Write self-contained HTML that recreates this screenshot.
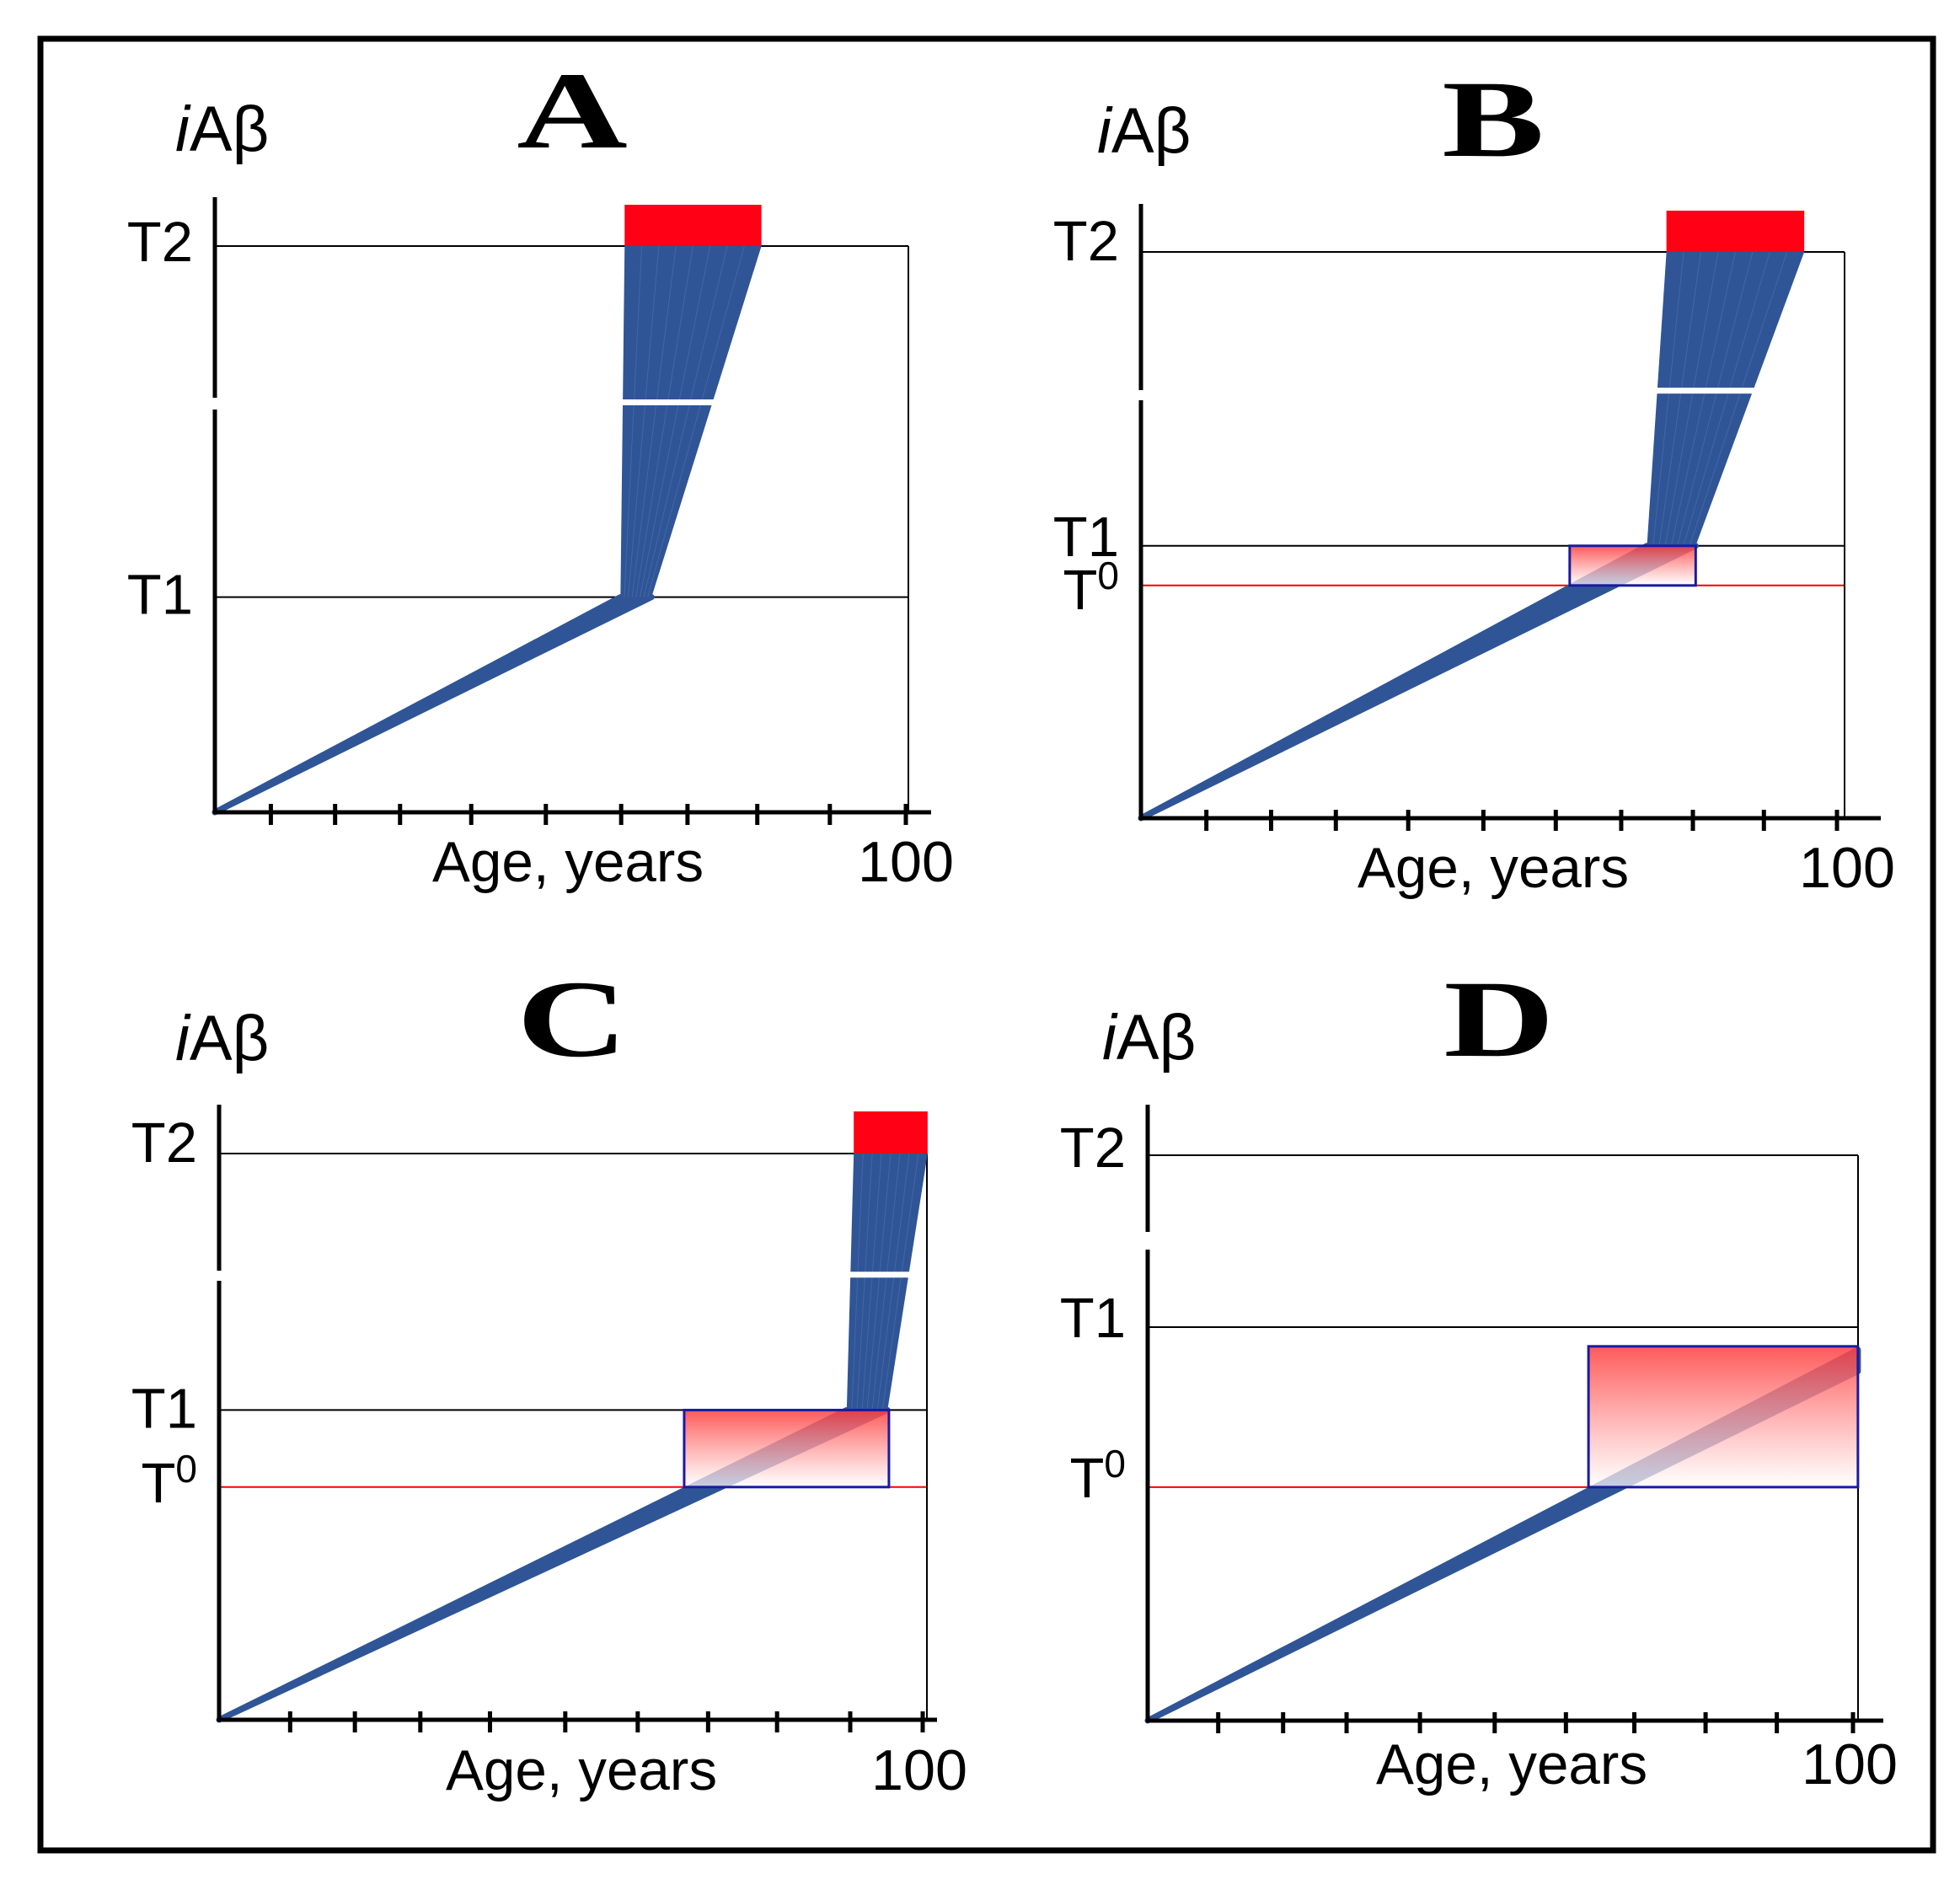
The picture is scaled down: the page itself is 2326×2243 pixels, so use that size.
<!DOCTYPE html>
<html><head><meta charset="utf-8">
<style>
html,body{margin:0;padding:0;background:#fff;}
svg{display:block;}
text{font-family:"Liberation Sans",sans-serif;fill:#000;}
.lt{font-family:"Liberation Serif",serif;font-weight:bold;}
</style></head>
<body>
<svg id="fig" width="2326" height="2243" viewBox="0 0 2326 2243" xmlns="http://www.w3.org/2000/svg">
<defs>
<linearGradient id="boxgrad" x1="0" y1="0" x2="0" y2="1">
<stop offset="0" stop-color="#ff3c3c" stop-opacity="0.85"/>
<stop offset="1" stop-color="#ffffff" stop-opacity="0.72"/>
</linearGradient>
</defs>
<rect x="48" y="46" width="2246" height="2150" fill="none" stroke="#000" stroke-width="7"/>
</svg>
<script>
// ---- data (ages in years, levels as fraction of T2) ----
const panelIds = ['A','B','C','D'];
const tickAgesA = [8.1,17.4,26.8,37.1,47.9,58.8,68.4,78.5,89,100];
const tickAgesB = [9.4,18.7,28,38.4,49.2,59.6,69,79.3,89.5,100];
const tickAgesC = [10.1,19.3,28.6,38.5,49.2,59.5,69.5,79.3,89.7,100];
const tickAgesD = [10,19.2,28.2,38.6,49.2,59.3,69,79.1,89.2,100];
const thresholdNames = ['T2','T1','T0'];
const thresholdLevelsA = [1, 0.38, null];
const thresholdLevelsB = [1, 0.481, 0.411];
const thresholdLevelsC = [1, 0.547, 0.411];
const thresholdLevelsD = [1, 0.696, 0.413];
// rising-line end points [age, level]
const lineEndA = [[58.7,0.38],[63.2,0.38]];
const lineEndB = [[72.7,0.481],[79.7,0.481]];
const lineEndC = [[89.2,0.547],[95.0,0.547]];
const lineEndD = [[100.7,0.618],[100.7,0.656]];
// fan (bottom-left, bottom-right, top-left, top-right ages)
const fanA = [58.7,63.2,59.3,79.1];
const fanB = [72.7,79.7,75.5,95.3];
const fanC = [89.2,95.0,90.2,100.7];
const fanD = null;
const fanGapLevel = [0.724,0.755,0.786,null];
// red AD box above T2 [ageStart, ageEnd]
const redBarA = [59.3,79.1];
const redBarB = [75.5,95.3];
const redBarC = [90.2,100.7];
const redBarD = null;
// gradient box [ageStart, ageEnd, levelBottom, levelTop]
const boxA = null;
const boxB = [61.6,79.7,0.411,0.481];
const boxC = [66.1,95.2,0.411,0.547];
const boxD = [62.5,100.7,0.413,0.662];

// ---- layout (pixels) ----
const layout = {
 A:{ox:255,oy:964,sx:8.20,sy:672,top:234,end:1105,rx:1078,brk:[472,486],lab:[-4,-2,0],ia:[208,179],let:[679,175],age:[674,1046],hun:[1075,1046],bar:49},
 B:{ox:1354,oy:971,sx:8.26,sy:672,top:242,end:2232,rx:2189,brk:[463,475],lab:[-12,-10,6],ia:[1302,181],let:[1772,185],age:[1772,1053],hun:[2192,1053],bar:49},
 C:{ox:260,oy:2041,sx:8.35,sy:672,top:1311,end:1112,rx:1100,brk:[1508,1520],lab:[-12,-1,-4],ia:[208,1258],let:[679,1253],age:[690,2124],hun:[1091,2124],bar:50},
 D:{ox:1362,oy:2042,sx:8.37,sy:671,top:1311,end:2235,rx:2205,brk:[1462,1483],lab:[-8,-10,-10],ia:[1308,1257],let:[1779,1253],age:[1794,2117],hun:[2195,2117],bar:0}
};
const data = {
 A:{ticks:tickAgesA,th:thresholdLevelsA,line:lineEndA,fan:fanA,red:redBarA,box:boxA,gap:fanGapLevel[0]},
 B:{ticks:tickAgesB,th:thresholdLevelsB,line:lineEndB,fan:fanB,red:redBarB,box:boxB,gap:fanGapLevel[1]},
 C:{ticks:tickAgesC,th:thresholdLevelsC,line:lineEndC,fan:fanC,red:redBarC,box:boxC,gap:fanGapLevel[2]},
 D:{ticks:tickAgesD,th:thresholdLevelsD,line:lineEndD,fan:fanD,red:redBarD,box:boxD,gap:fanGapLevel[3]}
};
const NS='http://www.w3.org/2000/svg';
const svg=document.getElementById('fig');
function mk(tag,attrs,parent){const e=document.createElementNS(NS,tag);for(const k in attrs)e.setAttribute(k,attrs[k]);(parent||svg).appendChild(e);return e;}
const BLUE='#2f5597';
panelIds.forEach(id=>{
 const L=layout[id], D=data[id];
 const X=a=>L.ox+a*L.sx, Y=v=>L.oy-v*L.sy;
 const g=mk('g',{});
 
 
 D.th.forEach((v,i)=>{ if(v==null) return;
  const ln=mk('line',{x1:L.ox,x2:L.rx,y1:Y(v),y2:Y(v),stroke:i==2?'#ff0000':'#000','stroke-width':2},g);
  
  
  const t=mk('text',{x:L.ox-26,y:Y(v)+L.lab[i]+22,'text-anchor':'end','font-size':67},g);
  
  
  if(i==2){t.textContent='T';const s=mk('tspan',{'font-size':46,dy:-24},t);s.textContent='0';}
  else t.textContent=thresholdNames[i];
 });
 const rb=mk('line',{x1:L.rx,x2:L.rx,y1:Y(1),y2:L.oy,stroke:'#000','stroke-width':2},g);
 
 
 const p=[[L.ox,L.oy],[X(D.line[0][0]),Y(D.line[0][1])],[X(D.line[1][0]),Y(D.line[1][1])]];
 const rl=mk('polygon',{points:p.map(q=>q.join(',')).join(' '),fill:BLUE,stroke:BLUE,'stroke-width':7,'stroke-linejoin':'round'},g);
 
 
 if(D.fan){
  const f=D.fan, yb=Y(D.th[1]), yt=Y(1);
  const fp=mk('polygon',{points:[X(f[0]),yb,X(f[1]),yb,X(f[3]),yt,X(f[2]),yt].join(' '),fill:BLUE},g);
  
  
  for(let k=1;k<8;k++){
   const l=mk('line',{x1:X(f[0]+(f[1]-f[0])*k/8),y1:yb,x2:X(f[2]+(f[3]-f[2])*k/8),y2:yt,stroke:'#6a86bd','stroke-width':1,opacity:0.35},g);
   
   
  }
  const gy=Y(D.gap), fr=(D.gap-D.th[1])/(1-D.th[1]);
  const gl=mk('line',{x1:X(f[0]+(f[2]-f[0])*fr)-4,x2:X(f[1]+(f[3]-f[1])*fr)+4,y1:gy,y2:gy,stroke:'#fff','stroke-width':7},g);
  
  
 }
 if(D.red){
  const r=mk('rect',{x:X(D.red[0]),y:Y(1)-L.bar,width:X(D.red[1])-X(D.red[0]),height:L.bar,fill:'#ff0015'},g);
  
  
 }
 if(D.box){
  const b=D.box;
  const r=mk('rect',{x:X(b[0]),y:Y(b[3]),width:X(b[1])-X(b[0]),height:Y(b[2])-Y(b[3]),fill:'url(#boxgrad)',stroke:'#1a1aa0','stroke-width':3},g);
  
  
 }
 const ya1=mk('line',{x1:L.ox,x2:L.ox,y1:L.top,y2:L.brk[0],stroke:'#000','stroke-width':5},g);
 
 
 const ya2=mk('line',{x1:L.ox,x2:L.ox,y1:L.brk[1],y2:L.oy+2,stroke:'#000','stroke-width':5},g);
 
 
 const xa=mk('line',{x1:L.ox-2,x2:L.end,y1:L.oy,y2:L.oy,stroke:'#000','stroke-width':5},g);
 
 
 D.ticks.forEach(a=>{
  const t=mk('line',{x1:X(a),x2:X(a),y1:L.oy-10,y2:L.oy+15,stroke:'#000','stroke-width':5},g);
  
  
 });
 const ia=mk('text',{x:L.ia[0],y:L.ia[1],'font-size':76},g);
 
 
 const it=mk('tspan',{'font-style':'italic'},ia); it.textContent='i';
 const it2=mk('tspan',{},ia); it2.textContent='Aβ';
 const lt=mk('text',{transform:'translate('+L.let[0]+','+L.let[1]+') scale(1.3,0.93)','font-size':140,'text-anchor':'middle',class:'lt'},g);
 
 
 lt.textContent=id;
 const ag=mk('text',{x:L.age[0],y:L.age[1],'font-size':68,'text-anchor':'middle',textLength:322,lengthAdjust:'spacingAndGlyphs'},g);
 
 
 ag.textContent='Age, years';
 const h=mk('text',{x:L.hun[0],y:L.hun[1],'font-size':68,'text-anchor':'middle',textLength:114,lengthAdjust:'spacingAndGlyphs'},g);
 
 
 h.textContent='100';
});
</script>
</body></html>
